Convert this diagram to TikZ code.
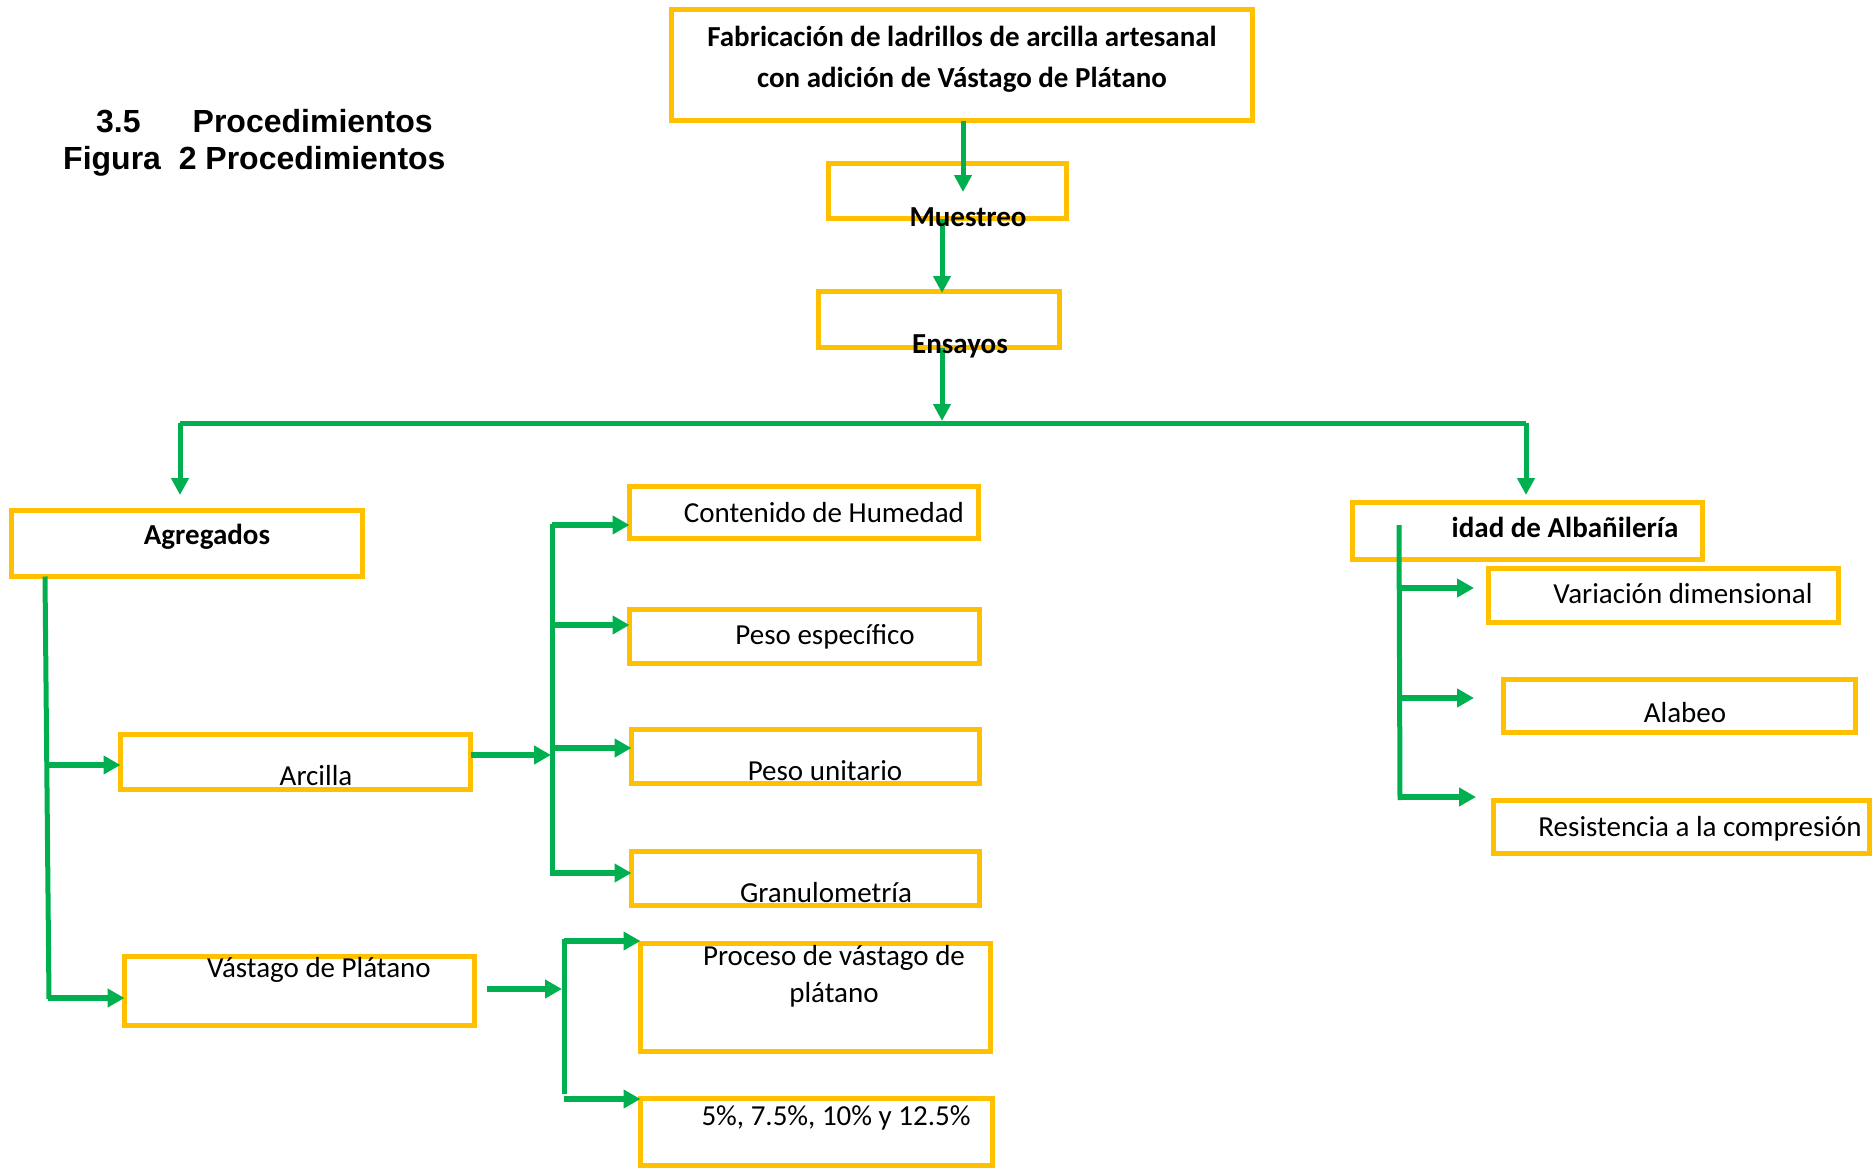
\documentclass[tikz,border=0pt]{standalone}
\usepackage{fontspec}
\setmainfont{Carlito}
\newfontfamily\arialf{Liberation Sans}
\usetikzlibrary{arrows.meta}
\definecolor{boxy}{HTML}{FFC000}
\definecolor{grn}{HTML}{00B050}
\begin{document}
\begin{tikzpicture}[x=1pt,y=-1pt,
  box/.style={draw=boxy,line width=5pt,inner sep=0pt,outer sep=0pt,rectangle},
  lbl/.style={inner sep=0pt,anchor=base,font=\fontsize{29pt}{38pt}\selectfont},
  blbl/.style={inner sep=0pt,anchor=base,font=\fontsize{29pt}{38pt}\selectfont\bfseries},
  ttl/.style={inner sep=0pt,anchor=base west,font=\arialf\bfseries\fontsize{32pt}{38pt}\selectfont},
  varr/.style={draw=grn,line width=5pt,-{Triangle[length=17pt,width=17pt]}},
  harr/.style={draw=grn,line width=6pt,-{Triangle[length=17pt,width=18pt]}},
  gline/.style={draw=grn,line width=5pt},
]
\useasboundingbox[fill=white] (0,0) rectangle (1874,1170);

% boxes
\node[box,minimum width=581pt,minimum height=111pt] (top) at (962,65) {};
\node[box,minimum width=238pt,minimum height=55pt] (mue) at (947.5,191) {};
\node[box,minimum width=241pt,minimum height=56pt] (ens) at (939,319.5) {};
\node[box,minimum width=351pt,minimum height=66pt] (agr) at (187,543.5) {};
\node[box,minimum width=350pt,minimum height=55pt] (arc) at (295.5,762) {};
\node[box,minimum width=350pt,minimum height=69pt] (vas) at (299.5,991) {};
\node[box,minimum width=349pt,minimum height=52pt] (con) at (804,512.5) {};
\node[box,minimum width=350pt,minimum height=54pt] (pes) at (804.5,636.5) {};
\node[box,minimum width=348pt,minimum height=54pt] (pun) at (805.5,756.5) {};
\node[box,minimum width=348pt,minimum height=54pt] (gra) at (805.5,878.5) {};
\node[box,minimum width=350pt,minimum height=108pt] (pro) at (815.5,997.5) {};
\node[box,minimum width=352pt,minimum height=67pt] (pct) at (816.5,1132) {};
\node[box,minimum width=350pt,minimum height=57pt] (alb) at (1527.5,531) {};
\node[box,minimum width=350pt,minimum height=54pt] (var) at (1663.5,595.5) {};
\node[box,minimum width=352pt,minimum height=53pt] (ala) at (1679.5,706) {};
\node[box,minimum width=376pt,minimum height=53pt] (res) at (1681.5,827) {};

% named points
\coordinate (c1) at (963,192);
\coordinate (c2) at (942,293);
\coordinate (c3) at (942,421);
\coordinate (busL) at (180,423);
\coordinate (busR) at (1526,423);
\coordinate (aL) at (180,495);
\coordinate (aR) at (1526,495);
\coordinate (g1) at (45,577);
\coordinate (g2) at (49,999);
\coordinate (ga) at (46,765);
\coordinate (gv) at (48,998);
\coordinate (b1) at (551,755);
\coordinate (b1t) at (552,524);
\coordinate (b1b) at (552,876);
\coordinate (v0) at (487,989);
\coordinate (b2) at (562,989);
\coordinate (b2t) at (564,939);
\coordinate (b2b) at (564,1094);
\coordinate (rt) at (1399,525);
\coordinate (rb) at (1400,800);
\coordinate (r1) at (1474,588);
\coordinate (r2) at (1474,698);
\coordinate (r3) at (1476,797);

% connectors
\draw[varr] (top.south -| c1) -- (c1);
\draw[varr] (mue.south -| c2) -- (c2);
\draw[varr] (ens.south -| c3) -- (c3);
\draw[gline] (busL) -- (busR);
\draw[varr] (busL) -- (aL);
\draw[varr] (busR) -- (aR);

\draw[gline] (agr.south -| g1) -- (g2);
\draw[harr] (ga) -- (arc.west |- ga);
\draw[harr] (gv) -- (vas.west |- gv);

\draw[harr] (arc.east |- b1) -- (b1);
\draw[gline] (b1t) -- (b1b);
\draw[harr] (b1t |- 0,525) -- (con.west |- 0,525);
\draw[harr] (b1t |- 0,625) -- (pes.west |- 0,625);
\draw[harr] (b1t |- 0,748) -- (pun.west |- 0,748);
\draw[harr] (b1t |- 0,873) -- (gra.west |- 0,873);

\draw[harr] (v0) -- (b2);
\draw[gline] (b2t) -- (b2b);
\draw[harr] (b2t |- 0,941) -- (pro.west |- 0,941);
\draw[harr] (b2t |- 0,1099) -- (pct.west |- 0,1099);

\draw[gline] (rt) -- (rb);
\draw[harr] (rt |- r1) -- (r1);
\draw[harr] (rt |- r2) -- (r2);
\draw[harr] (rt |- r3) -- (r3);

% texts
\node[ttl] (h1) at (96,132) {3.5\hspace{52pt}Procedimientos};
\node[ttl] (h2) at (63,169) {Figura\ \ 2 Procedimientos};

\node[blbl] (t0a) at (962,46) {Fabricación de ladrillos de arcilla artesanal};
\node[blbl] (t0b) at (962,87) {con adición de Vástago de Plátano};
\node[blbl] (tmue) at (968,226) {Muestreo};
\node[blbl] (tens) at (960,353) {Ensayos};
\node[blbl] (tagr) at (207,544) {Agregados};
\node[blbl] (talb) at (1565,537) {idad de Albañilería};

\node[lbl] (tcon) at (824,522) {Contenido de Humedad};
\node[lbl] (tpes) at (825,644) {Peso específico};
\node[lbl] (tpun) at (825,780) {Peso unitario};
\node[lbl] (tgra) at (826,902) {Granulometría};
\node[lbl] (tarc) at (316,785) {Arcilla};
\node[lbl] (tvas) at (319,977) {Vástago de Plátano};
\node[lbl] (tpro1) at (834,965) {Proceso de vástago de};
\node[lbl] (tpro2) at (834,1002) {plátano};
\node[lbl] (tpct) at (836,1125) {5\%, 7.5\%, 10\% y 12.5\%};
\node[lbl] (tvar) at (1683,603) {Variación dimensional};
\node[lbl] (tala) at (1685,722) {Alabeo};
\node[lbl] (tres) at (1700,836) {Resistencia a la compresión};
\end{tikzpicture}
\end{document}
